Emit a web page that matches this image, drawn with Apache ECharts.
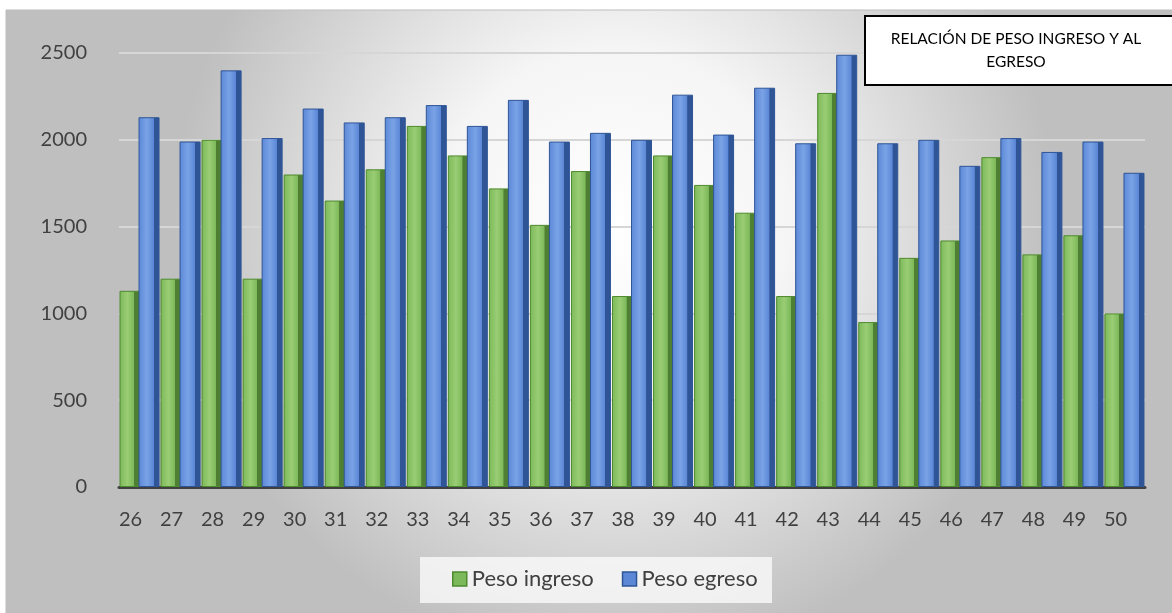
<!DOCTYPE html>
<html>
<head>
<meta charset="utf-8">
<script src="https://cdn.jsdelivr.net/npm/echarts@6/dist/echarts.min.js"></script>
<style>
  html, body { margin: 0; padding: 0; background: #ffffff; }
  #chart { width: 1172px; height: 613px; }
</style>
</head>
<body>
<div id="chart"></div>
<script>
const categories = ["26", "27", "28", "29", "30", "31", "32", "33", "34", "35", "36", "37", "38",
  "39", "40", "41", "42", "43", "44", "45", "46", "47", "48", "49", "50"];
const pesoIngreso = [1130, 1200, 2000, 1200, 1800, 1650, 1830, 2080, 1910, 1720, 1510, 1820, 1100,
  1910, 1740, 1580, 1100, 2270, 950, 1320, 1420, 1900, 1340, 1450, 1000];
const pesoEgreso = [2130, 1990, 2400, 2010, 2180, 2100, 2130, 2200, 2080, 2230, 1990, 2040, 2000,
  2260, 2030, 2300, 1980, 2490, 1980, 2000, 1850, 2010, 1930, 1990, 1810];
const yTicks = [0, 500, 1000, 1500, 2000, 2500];

const chart = echarts.init(document.getElementById("chart"));

// degradado horizontal para simular la cara lateral del 3D
function barFill(light, mid, dark) {
  return new echarts.graphic.LinearGradient(0, 0, 1, 0, [
    { offset: 0, color: mid },
    { offset: 0.4, color: light },
    { offset: 0.72, color: mid },
    { offset: 0.74, color: dark },
    { offset: 1, color: dark }
  ]);
}

chart.setOption({
  animation: false,
  textStyle: { fontFamily: "Lato" },
  graphic: [
    {
      type: "rect",
      z: -10,
      silent: true,
      shape: { x: 6, y: 10, width: 1170, height: 610 },
      style: {
        fill: new echarts.graphic.RadialGradient(0.52, 0.35, 0.72, [
          { offset: 0, color: "#ffffff" },
          { offset: 0.4, color: "#f5f5f5" },
          { offset: 1, color: "#bfbfbf" }
        ]),
        stroke: "#bdbdbd",
        lineWidth: 1
      }
    },
    {
      type: "rect",
      z: -9,
      silent: true,
      shape: { x: 420, y: 557, width: 352, height: 46 },
      style: { fill: "rgba(250,250,250,0.8)" }
    },
    {
      type: "rect",
      z: 100,
      zlevel: 1,
      shape: { x: 865, y: 16, width: 310, height: 69 },
      style: { fill: "#ffffff", stroke: "#000000", lineWidth: 2 }
    },
    {
      type: "text",
      z: 101,
      zlevel: 1,
      x: 1016,
      y: 50,
      style: {
        text: "RELACIÓN DE PESO INGRESO Y AL\nEGRESO",
        align: "center",
        verticalAlign: "middle",
        font: "15.5px Lato",
        lineHeight: 23,
        fill: "#000000"
      }
    }
  ],
  legend: {
    bottom: 18,
    left: 447,
    itemWidth: 14,
    itemHeight: 14,
    itemGap: 28,
    icon: "rect",
    textStyle: { fontSize: 22, color: "#404040", fontFamily: "Lato" },
    data: [
      { name: "Peso ingreso", itemStyle: { color: "#7cb95a", borderColor: "#4e8a2e", borderWidth: 1.5 } },
      { name: "Peso egreso", itemStyle: { color: "#5b87d6", borderColor: "#2f5597", borderWidth: 1.5 } }
    ]
  },
  grid: { left: 119, right: 27, top: 53, bottom: 126 },
  xAxis: {
    type: "category",
    data: categories,
    axisLine: { lineStyle: { color: "#404040", width: 3 } },
    axisTick: { show: false },
    axisLabel: {
      fontSize: 20, color: "#404040", margin: 23, fontFamily: "Lato",
      padding: [0, 18, 0, 0]
    }
  },
  yAxis: {
    type: "value",
    min: 0,
    max: 2500,
    interval: 500,
    axisLine: { show: false },
    axisTick: { show: false },
    axisLabel: {
      fontSize: 20, color: "#404040", margin: 32, fontFamily: "Lato",
      formatter: (v) => (yTicks.includes(v) ? String(v) : "")
    },
    splitLine: { lineStyle: { color: "#d6d6d6", width: 2 } }
  },
  series: [
    {
      name: "Peso ingreso",
      type: "bar",
      data: pesoIngreso,
      barWidth: 20,
      barGap: "-5%",
      itemStyle: {
        color: barFill("#9acd74", "#7cb95a", "#4f7f32"),
        borderColor: "#4e8a2e",
        borderWidth: 1
      }
    },
    {
      name: "Peso egreso",
      type: "bar",
      data: pesoEgreso,
      barWidth: 21,
      itemStyle: {
        color: barFill("#7aa3e6", "#5b87d6", "#2f5597"),
        borderColor: "#2f5597",
        borderWidth: 1
      }
    }
  ]
});
</script>
</body>
</html>
